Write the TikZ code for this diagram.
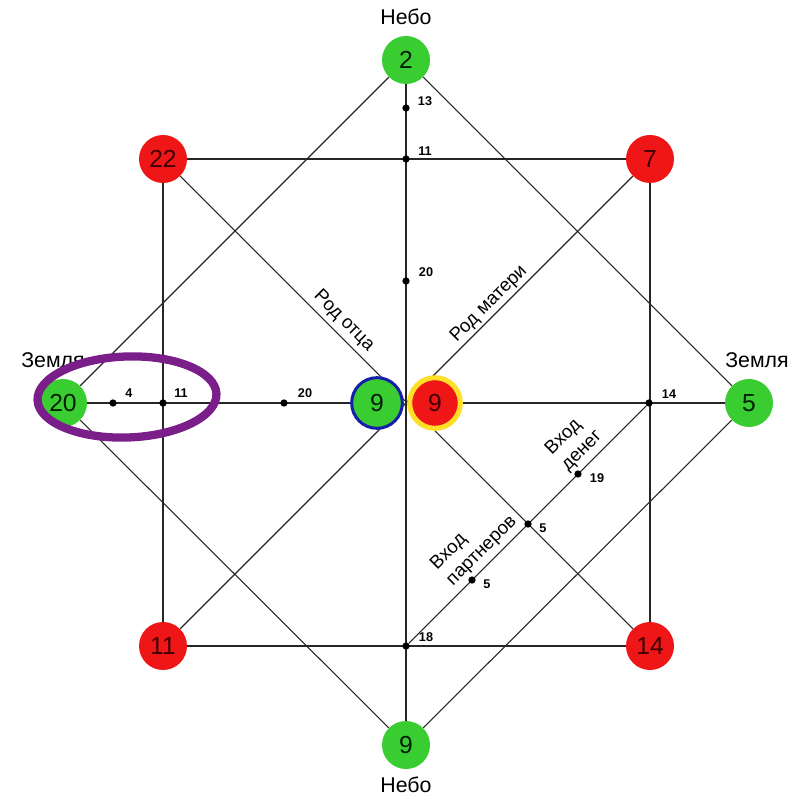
\documentclass[tikz,border=0pt]{standalone}
\usepackage{fontspec}
\setmainfont{Liberation Sans}
\usetikzlibrary{backgrounds}
\definecolor{skygreen}{RGB}{58,205,50}
\definecolor{karmared}{RGB}{238,22,22}
\definecolor{fatherblue}{RGB}{20,30,170}
\definecolor{motherglow}{RGB}{255,222,40}
\definecolor{ringpurple}{RGB}{122,30,138}

\begin{document}
\begin{tikzpicture}[x=0.75pt,y=-0.75pt]
\tikzset{pt/.style={circle,minimum size=36pt,inner sep=0pt,font=\fontsize{18.5}{18}\selectfont},
  gpt/.style={pt,fill=skygreen,text={black!88!green}},
  rpt/.style={pt,fill=karmared,text={black!75!red}},
  dot/.style={circle,fill=black,inner sep=0pt,minimum size=5.5pt},
  num/.style={font=\fontsize{9.5}{9}\selectfont\bfseries,inner sep=0pt},
  side/.style={font=\fontsize{16}{16}\selectfont,inner sep=0pt},
  lineage/.style={font=\fontsize{14}{17}\selectfont,inner sep=0pt,align=left},
  link/.style={draw=black!85,line width=0.8pt}}
\useasboundingbox (0,0) rectangle (807,805);
% outer points
\node[gpt] (skyT) at (406,60) {2};
\node[gpt] (skyB) at (406,745) {9};
\node[gpt] (earthL) at (63,403) {20};
\node[gpt] (earthR) at (749,403) {5};
\node[rpt] (r22) at (163,159) {22};
\node[rpt] (r7) at (650,159) {7};
\node[rpt] (r11) at (163,646) {11};
\node[rpt] (r14) at (650,646) {14};
% centre
\node[gpt,draw=fatherblue,line width=2.25pt,minimum size=38pt] (father) at (377,403) {9};
\node[rpt,draw=motherglow,line width=3.75pt,minimum size=38pt] (mother) at (435,403) {9};
% small points
\foreach \n/\p/\q/\t in {d13/{406,108}/{425,101}/13, d11t/{406,159}/{425,151}/11,
    d20v/{406,281}/{426,272}/20, d18/{406,646}/{426,637}/18, d4/{113,403}/{129,393}/4,
    d11h/{163,403}/{181,393}/11, d20h/{284,403}/{305,393}/20, d14/{649,403}/{669,394}/14,
    d19/{578,474}/{597,478}/19, d5a/{528,524}/{543,528}/5, d5b/{472,580}/{487,584}/5}{
  \node[dot] (\n) at (\p) {};
  \node[num] (\n-t) at (\q) {\t};}
% texts
\node[side] (heavT) at (406,17) {Небо};
\node[side] (heavB) at (406,785) {Небо};
\node[side] (landL) at (53,360) {Земля};
\node[side] (landR) at (757,360) {Земля};
\node[lineage,rotate=-45] (pat) at (344,321) {Род отца};
\node[lineage,rotate=45] (mat) at (489,304) {Род матери};
\node[lineage,rotate=45] (money) at (574,443) {Вход\\денег};
\node[lineage,rotate=45] (partn) at (474,543) {Вход\\партнеров};
\begin{scope}[on background layer]
\foreach \a/\b in {r22/r7,r7/r14,r14/r11,r11/r22,skyT/earthR,earthR/skyB,skyB/earthL,earthL/skyT,
    skyT/skyB,earthL/father,mother/earthR,r22/r14,r7/r11,d14/d18}{\draw[link] (\a) -- (\b);}
\end{scope}
\draw[ringpurple,line width=6.2pt,rotate around={2:(127,397)}] (127,397) ellipse [x radius=89.5,y radius=40.5];
\end{tikzpicture}
\end{document}
